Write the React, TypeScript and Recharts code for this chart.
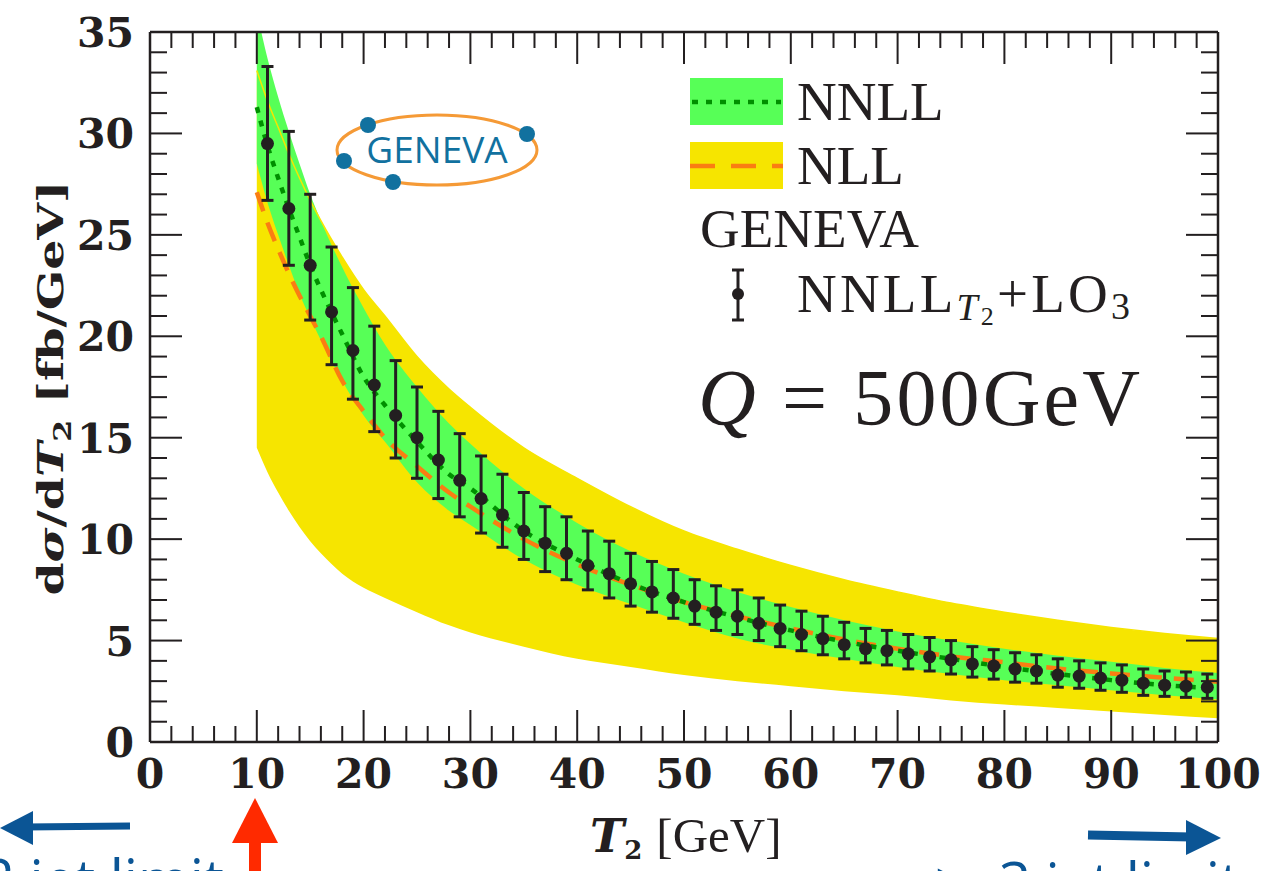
import { Area, ComposedChart, ErrorBar, Line, Scatter, XAxis, YAxis } from "recharts";

// resummed bands, x in GeV
const bandX = [10, 11, 12, 13, 14, 15, 16, 18, 20, 22, 25, 28, 30, 35, 40, 45, 50, 55, 60, 65, 70, 75, 80, 85, 90, 95, 100];
const nllLo = [14.5, 13.3, 12.3, 11.4, 10.6, 9.9, 9.3, 8.3, 7.6, 7.1, 6.4, 5.75, 5.4, 4.7, 4.1, 3.7, 3.3, 3.0, 2.75, 2.5, 2.3, 2.05, 1.85, 1.68, 1.5, 1.33, 1.17];
const nllHi = [33.1, 31.6, 30.3, 29.0, 27.8, 26.7, 25.7, 23.9, 22.3, 21.0, 19.0, 17.4, 16.5, 14.5, 13.0, 11.6, 10.4, 9.5, 8.7, 8.0, 7.4, 6.85, 6.4, 6.0, 5.65, 5.35, 5.1];
const nnllLo = [28.5, 26.6, 25.0, 23.5, 22.1, 20.9, 19.8, 17.8, 16.1, 14.8, 12.8, 11.4, 10.7, 9.0, 7.75, 6.8, 5.9, 5.1, 4.55, 4.1, 3.7, 3.35, 3.05, 2.8, 2.55, 2.3, 2.1];
const nnllHi = [36.0, 33.7, 31.8, 30.1, 28.5, 27.0, 25.7, 23.4, 21.4, 19.6, 17.5, 15.7, 14.7, 12.5, 10.8, 9.4, 8.3, 7.4, 6.65, 6.0, 5.45, 5.0, 4.6, 4.25, 3.95, 3.65, 3.4];
const nllCentral = [27.1, 25.6, 24.3, 23.1, 22.0, 21.0, 20.0, 17.8, 16.3, 15.0, 13.6, 12.3, 11.6, 10.0, 8.75, 7.75, 6.9, 6.2, 5.6, 5.05, 4.6, 4.22, 3.93, 3.62, 3.38, 3.17, 2.97];
const nnllCentral = [31.3, 29.4, 27.8, 26.3, 24.9, 23.5, 22.3, 20.1, 18.0, 16.6, 14.8, 13.2, 12.5, 10.4, 9.0, 7.8, 6.9, 6.15, 5.5, 4.95, 4.5, 4.1, 3.7, 3.35, 3.05, 2.8, 2.65];

// GENEVA NNLL_T2+LO3 points (bin centres)
const genevaX = [11, 13, 15, 17, 19, 21, 23, 25, 27, 29, 31, 33, 35, 37, 39, 41, 43, 45, 47, 49, 51, 53, 55, 57, 59, 61, 63, 65, 67, 69, 71, 73, 75, 77, 79, 81, 83, 85, 87, 89, 91, 93, 95, 97, 99];
const genevaY = [29.5, 26.3, 23.5, 21.2, 19.3, 17.6, 16.1, 15.0, 13.9, 12.9, 12.0, 11.2, 10.4, 9.8, 9.3, 8.7, 8.3, 7.8, 7.4, 7.1, 6.7, 6.4, 6.2, 5.85, 5.6, 5.3, 5.1, 4.8, 4.6, 4.5, 4.35, 4.2, 4.05, 3.85, 3.75, 3.6, 3.5, 3.3, 3.25, 3.15, 3.05, 2.9, 2.8, 2.75, 2.7];
const genevaHi = [33.3, 30.1, 27.0, 24.4, 22.4, 20.5, 18.8, 17.5, 16.3, 15.2, 14.1, 13.2, 12.3, 11.6, 11.1, 10.4, 9.9, 9.3, 8.9, 8.5, 8.0, 7.7, 7.5, 7.1, 6.75, 6.45, 6.2, 5.9, 5.6, 5.5, 5.3, 5.15, 5.0, 4.7, 4.55, 4.4, 4.3, 4.1, 4.0, 3.9, 3.8, 3.6, 3.5, 3.45, 3.35];
const genevaLo = [26.7, 23.5, 20.8, 18.6, 16.9, 15.3, 14.0, 13.0, 12.0, 11.1, 10.3, 9.6, 9.0, 8.4, 8.0, 7.5, 7.1, 6.7, 6.4, 6.1, 5.8, 5.5, 5.3, 5.0, 4.7, 4.5, 4.3, 4.1, 3.9, 3.8, 3.6, 3.5, 3.35, 3.2, 3.1, 2.95, 2.9, 2.7, 2.65, 2.55, 2.45, 2.3, 2.25, 2.2, 2.15];

const xTicks = [0, 2, 4, 6, 8, 10, 12, 14, 16, 18, 20, 22, 24, 26, 28, 30, 32, 34, 36, 38, 40, 42, 44, 46, 48, 50, 52, 54, 56, 58, 60, 62, 64, 66, 68, 70, 72, 74, 76, 78, 80, 82, 84, 86, 88, 90, 92, 94, 96, 98, 100];
const yTicks = [0, 1, 2, 3, 4, 5, 6, 7, 8, 9, 10, 11, 12, 13, 14, 15, 16, 17, 18, 19, 20, 21, 22, 23, 24, 25, 26, 27, 28, 29, 30, 31, 32, 33, 34, 35];

const INK = "#231f20";
const YELLOW = "#f6e500";
const GREEN = "#57ff57";
const DARK_GREEN = "#008f00";
const ORANGE = "#fa7d12";
const BLUE = "#0b5595";
const LOGO_BLUE = "#11719f";
const LOGO_ORANGE = "#f59a36";
const TICK_FONT = "DejaVu Serif";
const TEXT_FONT = "Liberation Serif";

const bandRows = bandX.map((x, i) => ({
  x,
  nllBand: [nllLo[i], nllHi[i]],
  nnllBand: [nnllLo[i], nnllHi[i]],
  nllHi: nllHi[i],
  nll: nllCentral[i],
  nnll: nnllCentral[i],
}));

const genevaRows = genevaX.map((x, i) => ({
  x,
  y: genevaY[i],
  err: [genevaY[i] - genevaLo[i], genevaHi[i] - genevaY[i]],
}));

const W = 1275;
const H = 871;

function BottomTick({ x, y, payload }: any) {
  const major = payload.value % 10 === 0;
  return (
    <g>
      <line x1={x} y1={y} x2={x} y2={y - (major ? 32 : 16)} stroke={INK} strokeWidth={2} />
      {major && (
        <text x={x} y={y + 46} textAnchor="middle" fontFamily={TICK_FONT} fontWeight="bold" fontSize={41} fill={INK}>
          {payload.value}
        </text>
      )}
    </g>
  );
}

function TopTick({ x, y, payload }: any) {
  const major = payload.value % 10 === 0;
  return <line x1={x} y1={y} x2={x} y2={y + (major ? 32 : 16)} stroke={INK} strokeWidth={2} />;
}

function LeftTick({ x, y, payload }: any) {
  const major = payload.value % 5 === 0;
  return (
    <g>
      <line x1={x} y1={y} x2={x + (major ? 32 : 17)} y2={y} stroke={INK} strokeWidth={2} />
      {major && (
        <text x={x - 16} y={y + 15} textAnchor="end" fontFamily={TICK_FONT} fontWeight="bold" fontSize={41} fill={INK}>
          {payload.value}
        </text>
      )}
    </g>
  );
}

function RightTick({ x, y, payload }: any) {
  const major = payload.value % 5 === 0;
  return <line x1={x} y1={y} x2={x - (major ? 32 : 17)} y2={y} stroke={INK} strokeWidth={2} />;
}

function Overlay() {
  return (
    <svg width={W} height={H} style={{ position: "absolute", left: 0, top: 0, pointerEvents: "none" }}>
      {/* axis titles */}
      <text
        transform="translate(63,388) rotate(-90)"
        textAnchor="middle"
        fontFamily={TICK_FONT}
        fontWeight="bold"
        fontSize={36}
        fill={INK}
        textLength={415}
        lengthAdjust="spacingAndGlyphs"
      >
        d<tspan fontStyle="italic">σ</tspan>/d<tspan fontStyle="italic">T</tspan>
        <tspan fontSize={24} dy={8}>2</tspan>
        <tspan dy={-8}> [fb/GeV]</tspan>
      </text>
      <text x={590} y={852} fontFamily={TICK_FONT} fill={INK}>
        <tspan fontStyle="italic" fontWeight="bold" fontSize={46}>T</tspan>
        <tspan fontWeight="bold" fontSize={26} dy={7}>2</tspan>
        <tspan fontFamily={TEXT_FONT} fontSize={49} dx={14} dy={-7}>[GeV]</tspan>
      </text>

      {/* legend */}
      <rect x={690} y={78} width={93} height={47} fill={GREEN} />
      <line x1={692} x2={781} y1={102} y2={102} stroke={DARK_GREEN} strokeWidth={4.5} strokeDasharray="6 8" />
      <text x={797} y={120} fontFamily={TEXT_FONT} fontSize={55} fill={INK}>NNLL</text>
      <rect x={690} y={142} width={93} height={47} fill={YELLOW} />
      <line x1={690} x2={783} y1={166} y2={166} stroke={ORANGE} strokeWidth={4.5} strokeDasharray="25 16" />
      <text x={797} y={184} fontFamily={TEXT_FONT} fontSize={55} fill={INK}>NLL</text>
      <text x={700} y={247} fontFamily={TEXT_FONT} fontSize={55} fill={INK}>GENEVA</text>
      <line x1={738} x2={738} y1={270} y2={320} stroke={INK} strokeWidth={3} />
      <line x1={732} x2={744} y1={270} y2={270} stroke={INK} strokeWidth={3} />
      <line x1={732} x2={744} y1={320} y2={320} stroke={INK} strokeWidth={3} />
      <circle cx={738} cy={294} r={6} fill={INK} />
      <text x={797} y={312} fontFamily={TEXT_FONT} fontSize={55} fill={INK} textLength={333} lengthAdjust="spacing">
        NNLL<tspan fontStyle="italic" fontSize={38} dy={8}>T</tspan>
        <tspan fontSize={26} dy={5}>2</tspan>
        <tspan fontSize={55} dy={-13}>+LO</tspan>
        <tspan fontSize={38} dy={7}>3</tspan>
      </text>
      <text x={698} y={425} fontFamily={TEXT_FONT} fontSize={80} fill={INK} textLength={442} lengthAdjust="spacing">
        <tspan fontStyle="italic">Q</tspan> = 500GeV
      </text>

      {/* GENEVA logo */}
      <ellipse cx={437} cy={150} rx={100} ry={35} fill="none" stroke={LOGO_ORANGE} strokeWidth={3} />
      <text x={437} y={163} textAnchor="middle" fontFamily="Open Sans" fontSize={37} fill={LOGO_BLUE}>GENEVA</text>
      <circle cx={368} cy={125} r={8} fill={LOGO_BLUE} />
      <circle cx={344} cy={161} r={8} fill={LOGO_BLUE} />
      <circle cx={393} cy={182} r={8} fill={LOGO_BLUE} />
      <circle cx={527} cy={134} r={8} fill={LOGO_BLUE} />

      {/* arrows and captions below the frame (cut by the page edge, as in the source) */}
      <line x1={130} x2={25} y1={826} y2={827} stroke={BLUE} strokeWidth={7} />
      <polygon points="0,828 33,811 33,845" fill={BLUE} />
      <rect x={249} y={840} width={12} height={40} fill="#ff2a00" />
      <polygon points="255,798 232,843 278,843" fill="#ff2a00" />
      <line x1={1088} x2={1192} y1={835} y2={837} stroke={BLUE} strokeWidth={9} />
      <polygon points="1221,838 1186,820 1186,855" fill={BLUE} />
      <text x={-17} y={900} fontFamily="Open Sans" fontSize={56} fill={BLUE}>2 jet limit</text>
      <text x={935} y={903} fontFamily="Open Sans" fontSize={56} fill={BLUE}>{">=3 jet limit"}</text>
    </svg>
  );
}

export default function App() {
  return (
    <div style={{ position: "absolute", left: 0, top: 0, width: W, height: H, overflow: "hidden", background: "#fff" }}>
      <div style={{ position: "absolute", left: 0, top: 0 }}>
        <ComposedChart width={W} height={H} data={bandRows} margin={{ top: 31, right: 56, bottom: 128, left: 149 }}>
          <XAxis
            dataKey="x"
            type="number"
            domain={[0, 100]}
            ticks={xTicks}
            interval={0}
            height={1}
            tickSize={0}
            tickMargin={0}
            tickLine={false}
            tick={<BottomTick />}
            axisLine={{ stroke: INK, strokeWidth: 2.5 }}
          />
          <XAxis
            xAxisId="top"
            orientation="top"
            dataKey="x"
            type="number"
            domain={[0, 100]}
            ticks={xTicks}
            interval={0}
            height={1}
            tickSize={0}
            tickMargin={0}
            tickLine={false}
            tick={<TopTick />}
            axisLine={{ stroke: INK, strokeWidth: 2.5 }}
          />
          <YAxis
            type="number"
            domain={[0, 35]}
            ticks={yTicks}
            interval={0}
            width={1}
            tickSize={0}
            tickMargin={0}
            tickLine={false}
            allowDataOverflow
            tick={<LeftTick />}
            axisLine={{ stroke: INK, strokeWidth: 2.5 }}
          />
          <YAxis
            yAxisId="right"
            orientation="right"
            type="number"
            domain={[0, 35]}
            ticks={yTicks}
            interval={0}
            width={1}
            tickSize={0}
            tickMargin={0}
            tickLine={false}
            allowDataOverflow
            tick={<RightTick />}
            axisLine={{ stroke: INK, strokeWidth: 2.5 }}
          />

          <Area type="monotone" dataKey="nllBand" fill={YELLOW} fillOpacity={1} stroke="none" isAnimationActive={false} />
          <Area type="monotone" dataKey="nnllBand" fill={GREEN} fillOpacity={1} stroke="none" isAnimationActive={false} />
          <Line type="monotone" dataKey="nllHi" stroke={YELLOW} strokeWidth={1.5} dot={false} isAnimationActive={false} />
          <Line
            type="monotone"
            dataKey="nll"
            stroke={ORANGE}
            strokeWidth={4.5}
            strokeDasharray="20 12"
            dot={false}
            isAnimationActive={false}
          />
          <Line
            type="monotone"
            dataKey="nnll"
            stroke={DARK_GREEN}
            strokeWidth={4.5}
            strokeDasharray="6 8"
            dot={false}
            isAnimationActive={false}
          />
          {/* invisible series so the mirrored top/right axes get a domain */}
          <Line
            xAxisId="top"
            yAxisId="right"
            dataKey="nnll"
            stroke="transparent"
            dot={false}
            activeDot={false}
            isAnimationActive={false}
          />
          <Scatter
            data={genevaRows}
            dataKey="y"
            isAnimationActive={false}
            shape={(p: any) => <circle cx={p.cx} cy={p.cy} r={6.5} fill={INK} />}
          >
            <ErrorBar dataKey="err" direction="y" width={6} stroke={INK} strokeWidth={3} />
          </Scatter>
        </ComposedChart>
      </div>
      <Overlay />
    </div>
  );
}
